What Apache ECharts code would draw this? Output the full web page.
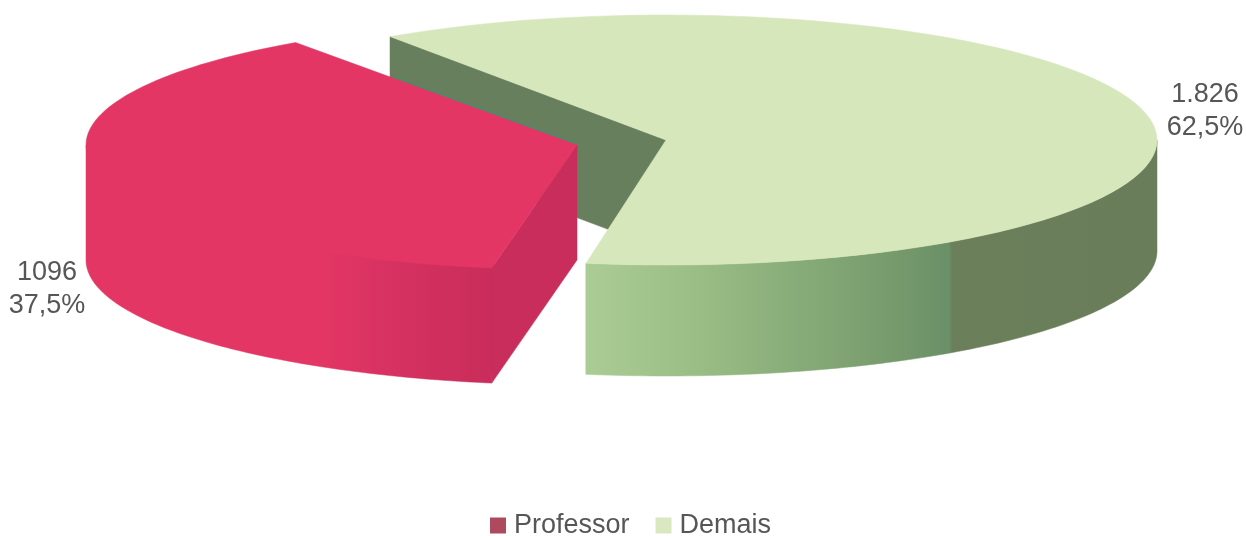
<!DOCTYPE html>
<html>
<head>
<meta charset="utf-8">
<style>html,body{margin:0;padding:0;background:#fff}#c{width:1246px;height:536px}</style>
<script src="https://cdn.jsdelivr.net/npm/echarts@6/dist/echarts.min.js"></script>
</head>
<body>
<div id="c"></div>
<script>
const categories = ['Professor', 'Demais'];
const values = [1096, 1826];
const valueLabels = ['1096', '1.826'];
const shareLabels = ['37,5%', '62,5%'];
const legendColors = ['#AE4A5E', '#D9E8C0'];

const total = values[0] + values[1];
const RX = 491, RY = 125;
const layouts = [
  { cx: 577, cy: 145, depth: 115, start: 100, sweepAdjust: 0, label: [47, 273], visibleFrom: 100, visibleTo: 180 },
  { cx: 666, cy: 140, depth: 111, start: 235.8, sweepAdjust: -1.4, label: [1205, 95], visibleFrom: 360, visibleTo: 459.4 }
];
const RAD = Math.PI / 180;
function rim(l, t, dy, scale) {
  const s = scale === undefined ? 1 : scale;
  return [l.cx + s * RX * Math.cos(t * RAD), l.cy + dy + s * RY * Math.sin(t * RAD)];
}
function arc(l, a, b, dy, scale) {
  const pts = [], n = 90;
  for (let i = 0; i <= n; i++) pts.push(rim(l, a + (b - a) * i / n, dy, scale));
  return pts;
}
function hGrad(x0, x1, stops) {
  return { type: 'linear', global: true, x: x0, y: 0, x2: x1, y2: 0,
    colorStops: stops.map(s => ({ offset: (s[0] - x0) / (x1 - x0), color: s[1] })) };
}
function poly(points, fill) {
  return { type: 'polygon', shape: { points }, style: { fill, stroke: fill, lineWidth: 0.5 } };
}
function labelTexts(i, l) {
  const font = '27px "Liberation Sans", sans-serif';
  return [valueLabels[i], shareLabels[i]].map((text, k) => ({
    type: 'text', x: l.label[0], y: l.label[1] + k * 33,
    style: { text, font, fill: '#565656', textAlign: 'center', textVerticalAlign: 'middle' }
  }));
}
function drawProfessor(params, api) {
  const i = 0, l = layouts[i];
  const sweep = api.value(0) / total * 360 + l.sweepAdjust;
  const a = l.start, b = a + sweep;
  // the side's upper edge sits under the top face, so no seam shows where both share a colour
  const outer = arc(l, l.visibleFrom, l.visibleTo, 0, 0.97)
    .concat([rim(l, l.visibleTo, 0)])
    .concat(arc(l, l.visibleTo, l.visibleFrom, l.depth));
  const pEnd = rim(l, a, 0), pEndLow = rim(l, a, l.depth);
  const pFar = rim(l, b, 0);
  const seamFrom = [l.cx + (pFar[0] - l.cx) * 0.65, l.cy + (pFar[1] - l.cy) * 0.65 - 1];
  const children = [
    { type: 'polyline', shape: { points: [seamFrom, [l.cx, l.cy - 1]] },
      style: { stroke: '#3F8F6E', lineWidth: 3, fill: 'none', opacity: 0.55 } },
    poly(outer, hGrad(86, 500, [[86, '#E33665'], [320, '#E33665'], [400, '#D53161'], [470, '#CC2E5C'], [500, '#C92D5B']])),
    poly([[l.cx, l.cy], pEnd, pEndLow, [l.cx, l.cy + l.depth]], '#C92D5B'),
    poly([[l.cx, l.cy]].concat(arc(l, a, b, 0)), '#E33665')
  ];
  return { type: 'group', children: children.concat(labelTexts(i, l)) };
}
function drawDemais(params, api) {
  const i = 1, l = layouts[i];
  const sweep = api.value(0) / total * 360 + l.sweepAdjust;
  const a = l.start, b = a + sweep;
  const outer = arc(l, l.visibleFrom, l.visibleTo, 0).concat(arc(l, l.visibleTo, l.visibleFrom, l.depth));
  const pStart = rim(l, a, 0), pStartLow = rim(l, a, l.depth);
  const children = [
    poly([pStart, [l.cx, l.cy], [l.cx, l.cy + l.depth], pStartLow], '#687F5D'),
    poly(outer, hGrad(585, 1157, [[585, '#ABCD95'], [700, '#9ABD85'], [800, '#87AB78'], [900, '#76996C'], [949, '#6A9068'], [952, '#6C7F5B'], [1157, '#6A7D5A']])),
    poly([[l.cx, l.cy]].concat(arc(l, a, b, 0)), '#D7E7BC')
  ];
  return { type: 'group', children: children.concat(labelTexts(i, l)) };
}
const chart = echarts.init(document.getElementById('c'), null, { renderer: 'canvas' });
chart.setOption({
  backgroundColor: '#ffffff',
  animation: false,
  legend: {
    data: categories, left: 485, top: 507, itemWidth: 16, itemHeight: 16, itemGap: 26,
    icon: 'rect', selectedMode: false,
    textStyle: { fontFamily: '"Liberation Sans", sans-serif', fontSize: 27, color: '#565656', padding: [0, 0, 0, 3] }
  },
  series: [
    { type: 'custom', name: categories[1], coordinateSystem: 'none', z: 1,
      itemStyle: { color: legendColors[1] }, data: [[values[1]]], renderItem: drawDemais, silent: true },
    { type: 'custom', name: categories[0], coordinateSystem: 'none', z: 2,
      itemStyle: { color: legendColors[0] }, data: [[values[0]]], renderItem: drawProfessor, silent: true }
  ]
});
</script>
</body>
</html>
